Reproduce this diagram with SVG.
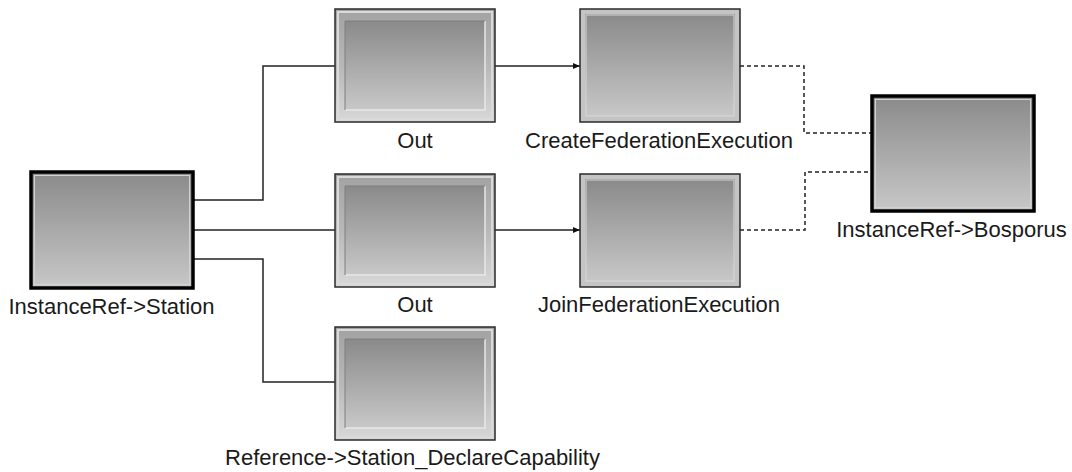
<svg xmlns="http://www.w3.org/2000/svg" width="1072" height="472" viewBox="0 0 1072 472">
  <defs>
    <linearGradient id="face" x1="0" y1="0" x2="0" y2="1">
      <stop offset="0" stop-color="#8a8a8a"/>
      <stop offset="1" stop-color="#c8c8c8"/>
    </linearGradient>
    <linearGradient id="frame" x1="0" y1="0" x2="0" y2="1">
      <stop offset="0" stop-color="#a2a2a2"/>
      <stop offset="0.5" stop-color="#b8b8b8"/>
      <stop offset="1" stop-color="#d8d8d8"/>
    </linearGradient>
    <marker id="arrow" markerUnits="userSpaceOnUse" markerWidth="8" markerHeight="8" refX="7" refY="4" orient="auto">
      <path d="M0,1 L7,4 L0,7 Z" fill="#111"/>
    </marker>
    <style>
      .label { font-family: "Liberation Sans", Arial, sans-serif; font-size: 22px; fill: #1a1a1a; text-anchor: middle; }
      .edge { fill: none; stroke: #222; stroke-width: 1.5; }
      .dash { fill: none; stroke: #222; stroke-width: 1.5; stroke-dasharray: 4 3; }
      .outline { fill: none; stroke: #2a2a2a; stroke-width: 1.5; }
      .thick { fill: none; stroke: #000; stroke-width: 3.5; }
      .rim { fill: none; stroke: #dadada; stroke-width: 2; }
      .hiLight { fill: none; stroke: #e8e8e8; stroke-width: 1.5; }
      .loLight { fill: none; stroke: #7e7e7e; stroke-width: 1; }
    </style>
  </defs>

  <rect width="1072" height="472" fill="#ffffff"/>

  <!-- connectors -->
  <g id="connectors">
    <polyline class="edge" points="193,200 263,200 263,66 335,66"/>
    <polyline class="edge" points="193,230 335,230"/>
    <polyline class="edge" points="193,259 263,259 263,382 335,382"/>
    <line class="edge" x1="495" y1="66" x2="580" y2="66" marker-end="url(#arrow)"/>
    <line class="edge" x1="495" y1="230" x2="580" y2="230" marker-end="url(#arrow)"/>
    <polyline class="dash" points="740,66 804,66 804,133 872,133"/>
    <polyline class="dash" points="740,230 805,230 805,172 872,172"/>
  </g>

  <!-- station instance -->
  <g id="station">
    <rect x="31" y="172" width="162" height="116" fill="url(#face)"/>
    <rect x="34.5" y="175.5" width="155" height="109" fill="none" stroke="#d2d2d2" stroke-width="1"/>
    <rect class="thick" x="31" y="172" width="162" height="116"/>
    <text class="label" x="111.5" y="314">InstanceRef-&gt;Station</text>
  </g>

  <!-- first Out block -->
  <g id="out-top">
    <rect x="335" y="9" width="160" height="113" fill="url(#frame)"/>
    <rect class="rim" x="338" y="12" width="154" height="107"/>
    <rect x="345" y="21" width="140" height="89" fill="url(#face)"/>
    <polyline class="hiLight" points="345,110 485,110 485,21"/>
    <polyline class="loLight" points="345,110 345,21 485,21"/>
    <rect class="outline" x="335" y="9" width="160" height="113"/>
    <text class="label" x="415" y="148">Out</text>
  </g>

  <!-- second Out block -->
  <g id="out-middle">
    <rect x="335" y="174" width="160" height="113" fill="url(#frame)"/>
    <rect class="rim" x="338" y="177" width="154" height="107"/>
    <rect x="345" y="186" width="140" height="89" fill="url(#face)"/>
    <polyline class="hiLight" points="345,275 485,275 485,186"/>
    <polyline class="loLight" points="345,275 345,186 485,186"/>
    <rect class="outline" x="335" y="174" width="160" height="113"/>
    <text class="label" x="415" y="312">Out</text>
  </g>

  <!-- declare capability reference -->
  <g id="declare-capability">
    <rect x="335" y="327" width="160" height="113" fill="url(#frame)"/>
    <rect class="rim" x="338" y="330" width="154" height="107"/>
    <rect x="345" y="339" width="140" height="89" fill="url(#face)"/>
    <polyline class="hiLight" points="345,428 485,428 485,339"/>
    <polyline class="loLight" points="345,428 345,339 485,339"/>
    <rect class="outline" x="335" y="327" width="160" height="113"/>
    <text class="label" x="412.5" y="465">Reference-&gt;Station_DeclareCapability</text>
  </g>

  <!-- create federation execution -->
  <g id="create-federation">
    <rect x="580" y="9" width="160" height="113" fill="#c4c4c4"/>
    <rect x="585" y="14" width="150" height="103" fill="url(#face)"/>
    <rect x="586" y="15" width="148" height="101" fill="none" stroke="#d8d8d8" stroke-width="1"/>
    <rect class="outline" x="580" y="9" width="160" height="113"/>
    <text class="label" x="659" y="148">CreateFederationExecution</text>
  </g>

  <!-- join federation execution -->
  <g id="join-federation">
    <rect x="580" y="174" width="160" height="113" fill="#c4c4c4"/>
    <rect x="585" y="179" width="150" height="103" fill="url(#face)"/>
    <rect x="586" y="180" width="148" height="101" fill="none" stroke="#d8d8d8" stroke-width="1"/>
    <rect class="outline" x="580" y="174" width="160" height="113"/>
    <text class="label" x="659" y="312">JoinFederationExecution</text>
  </g>

  <!-- bosporus instance -->
  <g id="bosporus">
    <rect x="872" y="96" width="162" height="115" fill="url(#face)"/>
    <rect x="875.5" y="99.5" width="155" height="108" fill="none" stroke="#d2d2d2" stroke-width="1"/>
    <rect class="thick" x="872" y="96" width="162" height="115"/>
    <text class="label" x="951.5" y="237">InstanceRef-&gt;Bosporus</text>
  </g>
</svg>
